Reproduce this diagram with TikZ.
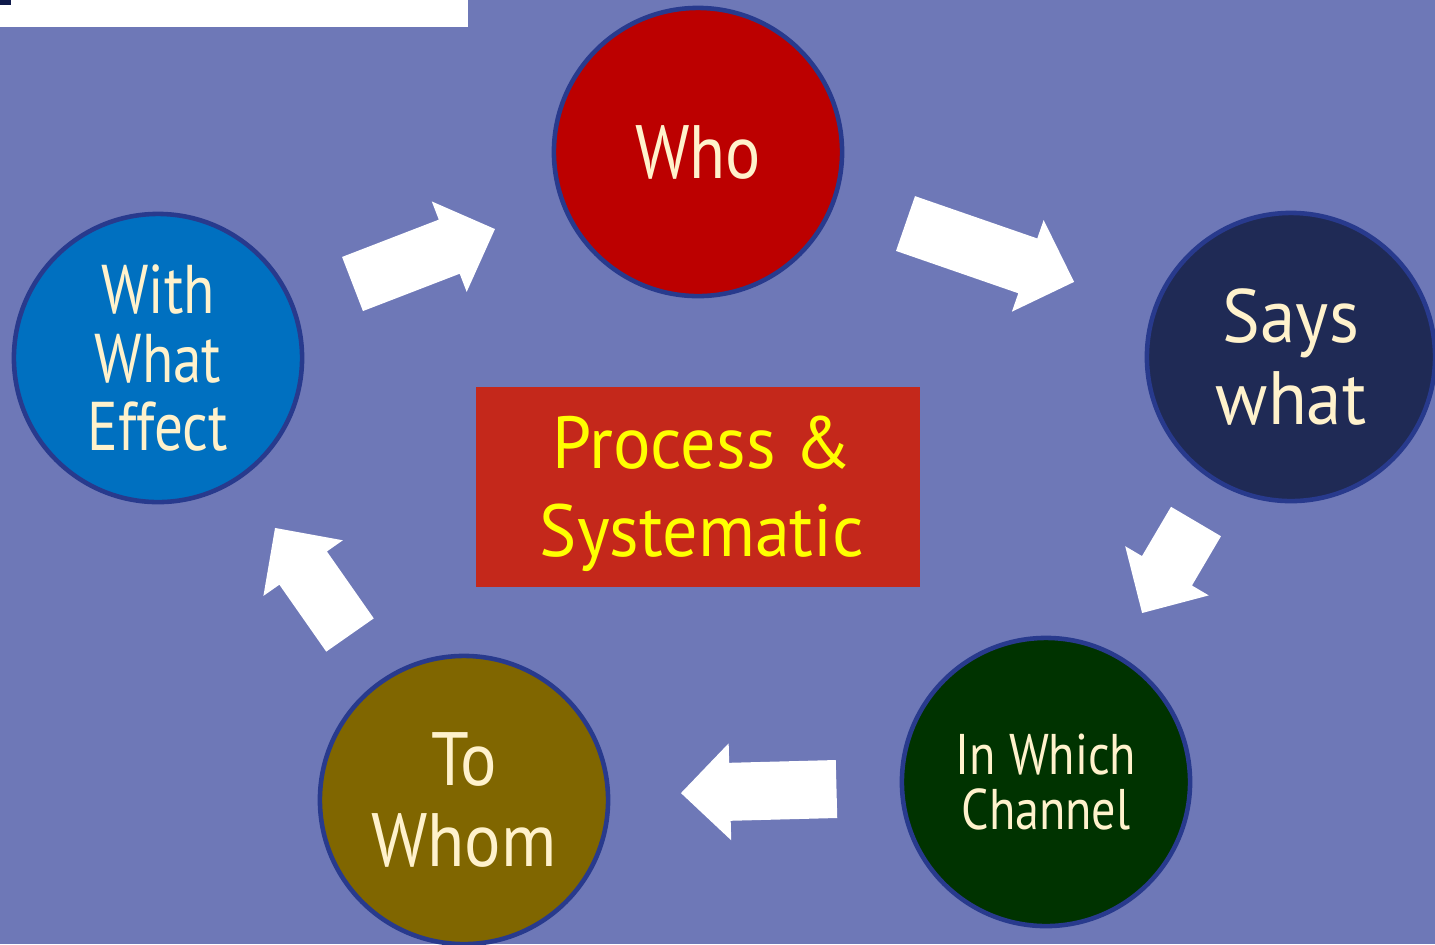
\documentclass[tikz,border=0pt]{standalone}
\usepackage{fontspec}
\setmainfont{PT Sans}
\newfontfamily\fwho{PT Sans}[FakeStretch=0.87]
\newfontfamily\fsays{PT Sans}[FakeStretch=0.94]
\newfontfamily\fchan{PT Sans}[FakeStretch=0.84]
\newfontfamily\fwhom{PT Sans}[FakeStretch=0.9]
\newfontfamily\feff{PT Sans}[FakeStretch=0.83]
\newfontfamily\fprocbox{PT Sans}[FakeStretch=0.95]
\definecolor{bg}{HTML}{6E78B7}
\definecolor{rim}{HTML}{283A8D}
\definecolor{cream}{HTML}{FFF2CC}
\definecolor{cwho}{HTML}{BC0000}
\definecolor{csays}{HTML}{1F2A55}
\definecolor{cchan}{HTML}{003300}
\definecolor{cwhom}{HTML}{806600}
\definecolor{ceff}{HTML}{0070C0}
\definecolor{cbox}{HTML}{C4281B}
\definecolor{cyel}{HTML}{FFFF00}
\definecolor{cmark}{HTML}{0F1A4A}
\begin{document}
\begin{tikzpicture}[x=0.01cm,y=-0.01cm,
  circ/.style={circle, draw=rim, line width=1.3pt, minimum size=2.88cm, inner sep=0pt,
    text=cream, align=center},
  pics/blockarrow/.style={code={
    \fill[white] (0,-29) -- ({#1-49},-29) -- ({#1-49},-48.5) -- (#1,0)
      -- ({#1-49},48.5) -- ({#1-49},29) -- (0,29) -- cycle;}}]
\fill[bg] (0,0) rectangle (1435,944);
\useasboundingbox (0,0) rectangle (1435,944);
% top-left white strip
\fill[white] (0,0) rectangle (468,27);
\fill[cmark] (0,0) rectangle (11,5);
% circles
\node[circ, fill=cwho, font=\fwho\fontsize{21.5pt}{23.3pt}\selectfont] (who) at (698,152) {Who};
\node[circ, fill=csays, font=\fsays\fontsize{21.5pt}{23.3pt}\selectfont] (says) at (1291,357) {Says\\what};
\node[circ, fill=cchan, font=\fchan\fontsize{16.3pt}{15.6pt}\selectfont] (chan) at (1046,782) {In Which\\Channel};
\node[circ, fill=cwhom, font=\fwhom\fontsize{21.5pt}{23pt}\selectfont] (whom) at (464,800) {To\\Whom};
\node[circ, fill=ceff, font=\feff\fontsize{19.6pt}{19.6pt}\selectfont] (eff) at (158,358) {With\\What\\Effect};
% centre box
\node[fill=cbox, minimum width=4.44cm, minimum height=2cm, inner sep=0pt] (box) at (698,487) {};
\node[text=cyel, align=center, inner sep=0pt, font=\fprocbox\fontsize{21pt}{25pt}\selectfont]
  (boxtext) at (702,494) {Process \&\\Systematic};
% block arrows
\pic[rotate=21.1] at (352.5,284) {blockarrow=152.7};
\pic[rotate=-19.1] at (905.5,223.5) {blockarrow=178.4};
\pic[rotate=-120.5] at (1196,521.5) {blockarrow=106.2};
\pic[rotate=181.5] at (836.5,789) {blockarrow=155.6};
\pic[rotate=125] at (350,635) {blockarrow=130.7};
\end{tikzpicture}
\end{document}
